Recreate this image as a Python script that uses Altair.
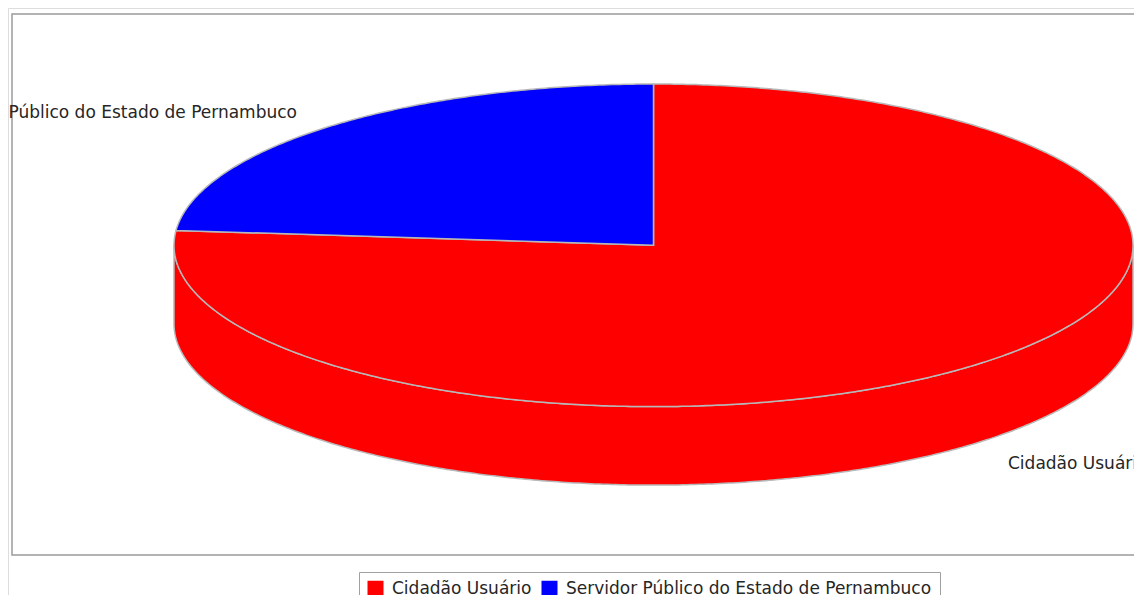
import math
import altair as alt

# ---- data ----
categories = ["Cidadão Usuário", "Servidor Público do Estado de Pernambuco"]
values = [13, 4]
colors = ["#ff0000", "#0000ff"]

# ---- 3D pie geometry parameters (unit ellipse, scaled by projection) ----
RX = 479.5                  # projection scale (pixels per unit)
RY_RATIO = 161.3 / 479.5    # vertical squash of the pie
DEPTH = 78.5 / 479.5        # thickness of the pie
CX, CY = 645.5, 237.3       # projection translate
START_ANGLE = 90.0          # 12 o'clock, clockwise

total = float(sum(values))
top_feats, wall_feats = [], []


def pt(deg, drop=0.0):
    t = math.radians(deg)
    return [math.cos(t), RY_RATIO * math.sin(t) - drop]


start = START_ANGLE
for cat, v in zip(categories, values):
    extent = 360.0 * v / total
    end = start - extent
    n = max(int(extent * 2), 8)
    ring = [[0.0, 0.0]] + [pt(start - extent * i / n) for i in range(n + 1)] + [[0.0, 0.0]]
    top_feats.append({"type": "Feature", "properties": {"name": cat},
                      "geometry": {"type": "Polygon", "coordinates": [ring]}})
    # visible front wall: parts of the slice with sin(t) < 0
    for k in range(-2, 3):
        a = max(end, -180.0 + 360 * k)
        b = min(start, 0.0 + 360 * k)
        if b - a > 1e-6:
            m = max(int((b - a) * 2), 8)
            upper = [pt(b - (b - a) * i / m) for i in range(m + 1)]
            lower = [pt(a + (b - a) * i / m, DEPTH) for i in range(m + 1)]
            wring = upper + lower + [upper[0]]
            wall_feats.append({"type": "Feature", "properties": {"name": cat},
                               "geometry": {"type": "Polygon", "coordinates": [wring]}})
    start = end

proj = alt.Projection(type="identity", reflectY=True, scale=RX, translate=[CX, CY])

FONT = "DejaVu Sans"
FSIZE = 17
TXT = "#262626"

legend = alt.Legend(
    title=None, orient="none", legendX=351, legendY=564, direction="horizontal",
    symbolType="square", symbolSize=256, symbolStrokeWidth=0,
    labelFont=FONT, labelFontSize=FSIZE, labelColor=TXT, labelLimit=2000,
    strokeColor="#a0a0a0", fillColor="white", padding=8,
    labelOffset=8, columnPadding=9, symbolOffset=0,
)
color = alt.Color("properties.name:N", scale=alt.Scale(domain=categories, range=colors),
                  legend=legend)


def geo(feats):
    return alt.InlineData(values={"type": "FeatureCollection", "features": feats},
                          format=alt.DataFormat(type="json", property="features"))


walls = alt.Chart(geo(wall_feats)).mark_geoshape(
    stroke="#b8b8b8", strokeWidth=1.5
).encode(color=color).project(**proj.to_dict())

tops = alt.Chart(geo(top_feats)).mark_geoshape(
    stroke="#b8b8b8", strokeWidth=1.5
).encode(color=color).project(**proj.to_dict())

border = alt.Chart(alt.Data(values=[{}])).mark_rect(
    filled=False, stroke="#9a9a9a", strokeWidth=1.5
).encode(x=alt.value(4), x2=alt.value(1140), y=alt.value(6), y2=alt.value(547))

label_left = alt.Chart(alt.Data(values=[{"label": categories[1]}])).mark_text(
    align="right", baseline="middle", font=FONT, fontSize=FSIZE, color=TXT
).encode(text="label:N", x=alt.value(289), y=alt.value(105))

label_right = alt.Chart(alt.Data(values=[{"label": categories[0]}])).mark_text(
    align="left", baseline="middle", font=FONT, fontSize=FSIZE, color=TXT
).encode(text="label:N", x=alt.value(1000), y=alt.value(456))

chart = alt.layer(border, walls, tops, label_left, label_right).properties(
    width=1126, height=587, padding=0,
    autosize=alt.AutoSizeParams(type="none"),
).configure_view(stroke=None).configure(background="white")

chart.save("out.html", embed_options={"renderer": "svg", "actions": False})
